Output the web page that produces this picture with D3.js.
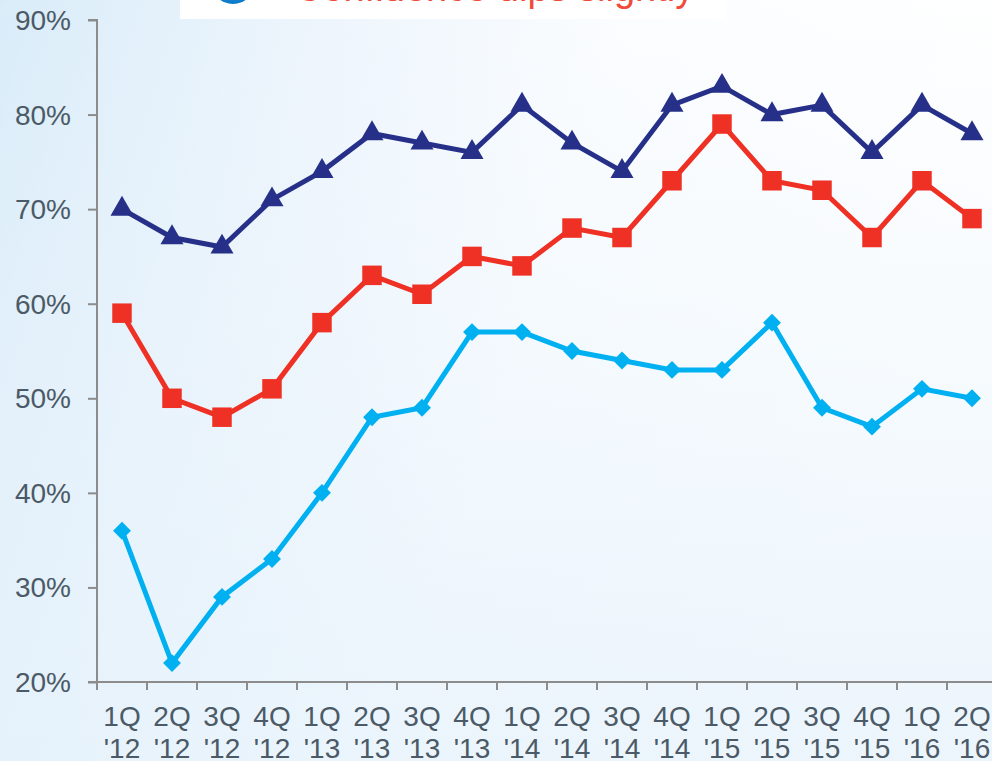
<!DOCTYPE html>
<html>
<head>
<meta charset="utf-8">
<script src="https://cdn.jsdelivr.net/npm/d3@7"></script>
<style>
html,body{margin:0;padding:0;background:#fff;}
svg{display:block;}
</style>
</head>
<body>
<script>
const categories = ["1Q '12","2Q '12","3Q '12","4Q '12","1Q '13","2Q '13","3Q '13","4Q '13","1Q '14","2Q '14","3Q '14","4Q '14","1Q '15","2Q '15","3Q '15","4Q '15","1Q '16","2Q '16"];
const navyValues = [70,67,66,71,74,78,77,76,81,77,74,81,83,80,81,76,81,78];
const redValues = [59,50,48,51,58,63,61,65,64,68,67,73,79,73,72,67,73,69];
const blueValues = [36,22,29,33,40,48,49,57,57,55,54,53,53,58,49,47,51,50];
const yTicks = [20,30,40,50,60,70,80,90];
const titleText = "Confidence dips slightly";

const W = 992, H = 761;
const plotLeft = 97, plotTop = 20, plotBottom = 682;
const band = 50;
const svg = d3.select("body").append("svg").attr("width", W).attr("height", H);
const defs = svg.append("defs");

const lg = defs.append("linearGradient").attr("id","bg").attr("x1","0").attr("y1","0").attr("x2","1").attr("y2","0.25");
lg.append("stop").attr("offset","0").attr("stop-color","#d9ecf9");
lg.append("stop").attr("offset","0.3").attr("stop-color","#edf5fc");
lg.append("stop").attr("offset","0.6").attr("stop-color","#fbfdff");
lg.append("stop").attr("offset","1").attr("stop-color","#ffffff");
svg.append("rect").attr("width",W).attr("height",H).attr("fill","url(#bg)");

const lg2 = defs.append("linearGradient").attr("id","bg2").attr("x1","0").attr("y1","0").attr("x2","0").attr("y2","1");
lg2.append("stop").attr("offset","0").attr("stop-color","#e4f1fb").attr("stop-opacity",0);
lg2.append("stop").attr("offset","1").attr("stop-color","#e4f1fb").attr("stop-opacity",0.7);
svg.append("rect").attr("width",W).attr("height",H).attr("fill","url(#bg2)");

const rg = defs.append("radialGradient").attr("id","corner").attr("cx","0").attr("cy","0").attr("r","1");
rg.append("stop").attr("offset","0").attr("stop-color","#a9d2f0");
rg.append("stop").attr("offset","0.5").attr("stop-color","#cfe6f7");
rg.append("stop").attr("offset","1").attr("stop-color","#e6f2fb").attr("stop-opacity",0);
svg.append("ellipse").attr("cx",0).attr("cy",0).attr("rx",45).attr("ry",30).attr("fill","url(#corner)");

// header
svg.append("rect").attr("x",180).attr("y",0).attr("width",545).attr("height",19).attr("fill","#ffffff");
const cg = defs.append("radialGradient").attr("id","circ").attr("cx","0.5").attr("cy","0.3").attr("r","0.7");
cg.append("stop").attr("offset","0").attr("stop-color","#4fb8ec");
cg.append("stop").attr("offset","1").attr("stop-color","#0a78c8");
svg.append("circle").attr("cx",233).attr("cy",-18).attr("r",22).attr("fill","url(#circ)");
svg.append("text").attr("x",295).attr("y",0.5).attr("font-family","Liberation Sans, Arial, sans-serif")
  .attr("font-size",38).attr("fill","#f04a3a").text(titleText);

const x = d3.scaleBand().domain(categories).range([plotLeft, plotLeft + band*categories.length]);
const y = d3.scaleLinear().domain([20,90]).range([plotBottom, plotTop]);

const font = "Liberation Sans, Arial, sans-serif";
const txtColor = "#4b5a66";
const axisColor = "#8c8c8c";

// y axis
const yAxis = svg.append("g").attr("transform",`translate(${plotLeft},0)`)
  .call(d3.axisLeft(y).tickValues(yTicks).tickFormat(d => d + "%").tickSize(9).tickPadding(17));
yAxis.select(".domain").attr("stroke",axisColor).attr("stroke-width",2).attr("d",`M-9,${plotTop}H0V${plotBottom}`);
yAxis.selectAll(".tick line").attr("stroke",axisColor).attr("stroke-width",2);
yAxis.selectAll(".tick text").attr("font-family",font).attr("font-size",28).attr("fill",txtColor).attr("dy","0.34em");

// x axis
const xAxis = svg.append("g").attr("transform",`translate(0,${plotBottom})`)
  .call(d3.axisBottom(x).tickSize(0).tickFormat(""));
xAxis.select(".domain").attr("stroke",axisColor).attr("stroke-width",2).attr("d",`M${plotLeft-9},0H${plotLeft+band*categories.length}`);
const tickPos = d3.range(categories.length + 1).map(i => plotLeft + i*band);
xAxis.selectAll(".xt").data(tickPos).join("line").attr("class","xt")
  .attr("x1",d=>d).attr("x2",d=>d).attr("y1",0).attr("y2",8).attr("stroke",axisColor).attr("stroke-width",2);
const lbl = xAxis.selectAll(".xl").data(categories).join("text").attr("class","xl")
  .attr("text-anchor","middle").attr("font-family",font).attr("font-size",28).attr("fill",txtColor)
  .attr("transform", d => `translate(${x(d)+x.bandwidth()/2},0)`);
lbl.append("tspan").attr("x",0).attr("y",44).text(d => d.split(" ")[0]);
lbl.append("tspan").attr("x",0).attr("y",76).text(d => d.split(" ")[1]);

const cx = d => x(d) + x.bandwidth()/2;
const line = d3.line().x(d => cx(d.c)).y(d => y(d.v));

function series(values, color, symbol, size, rot) {
  const data = categories.map((c,i) => ({c, v: values[i]}));
  svg.append("path").datum(data).attr("d", line).attr("fill","none").attr("stroke",color)
    .attr("stroke-width",5).attr("stroke-linejoin","miter");
  svg.selectAll(null).data(data).join("path")
    .attr("d", d3.symbol().type(symbol).size(size))
    .attr("transform", d => `translate(${cx(d.c)},${y(d.v)}) rotate(${rot})`)
    .attr("fill", color);
}
series(blueValues, "#00b0f0", d3.symbolSquare, 160, 45);
series(redValues, "#ee3124", d3.symbolSquare, 380, 0);
series(navyValues, "#263089", d3.symbolTriangle, 230, 0);
</script>
</body>
</html>
